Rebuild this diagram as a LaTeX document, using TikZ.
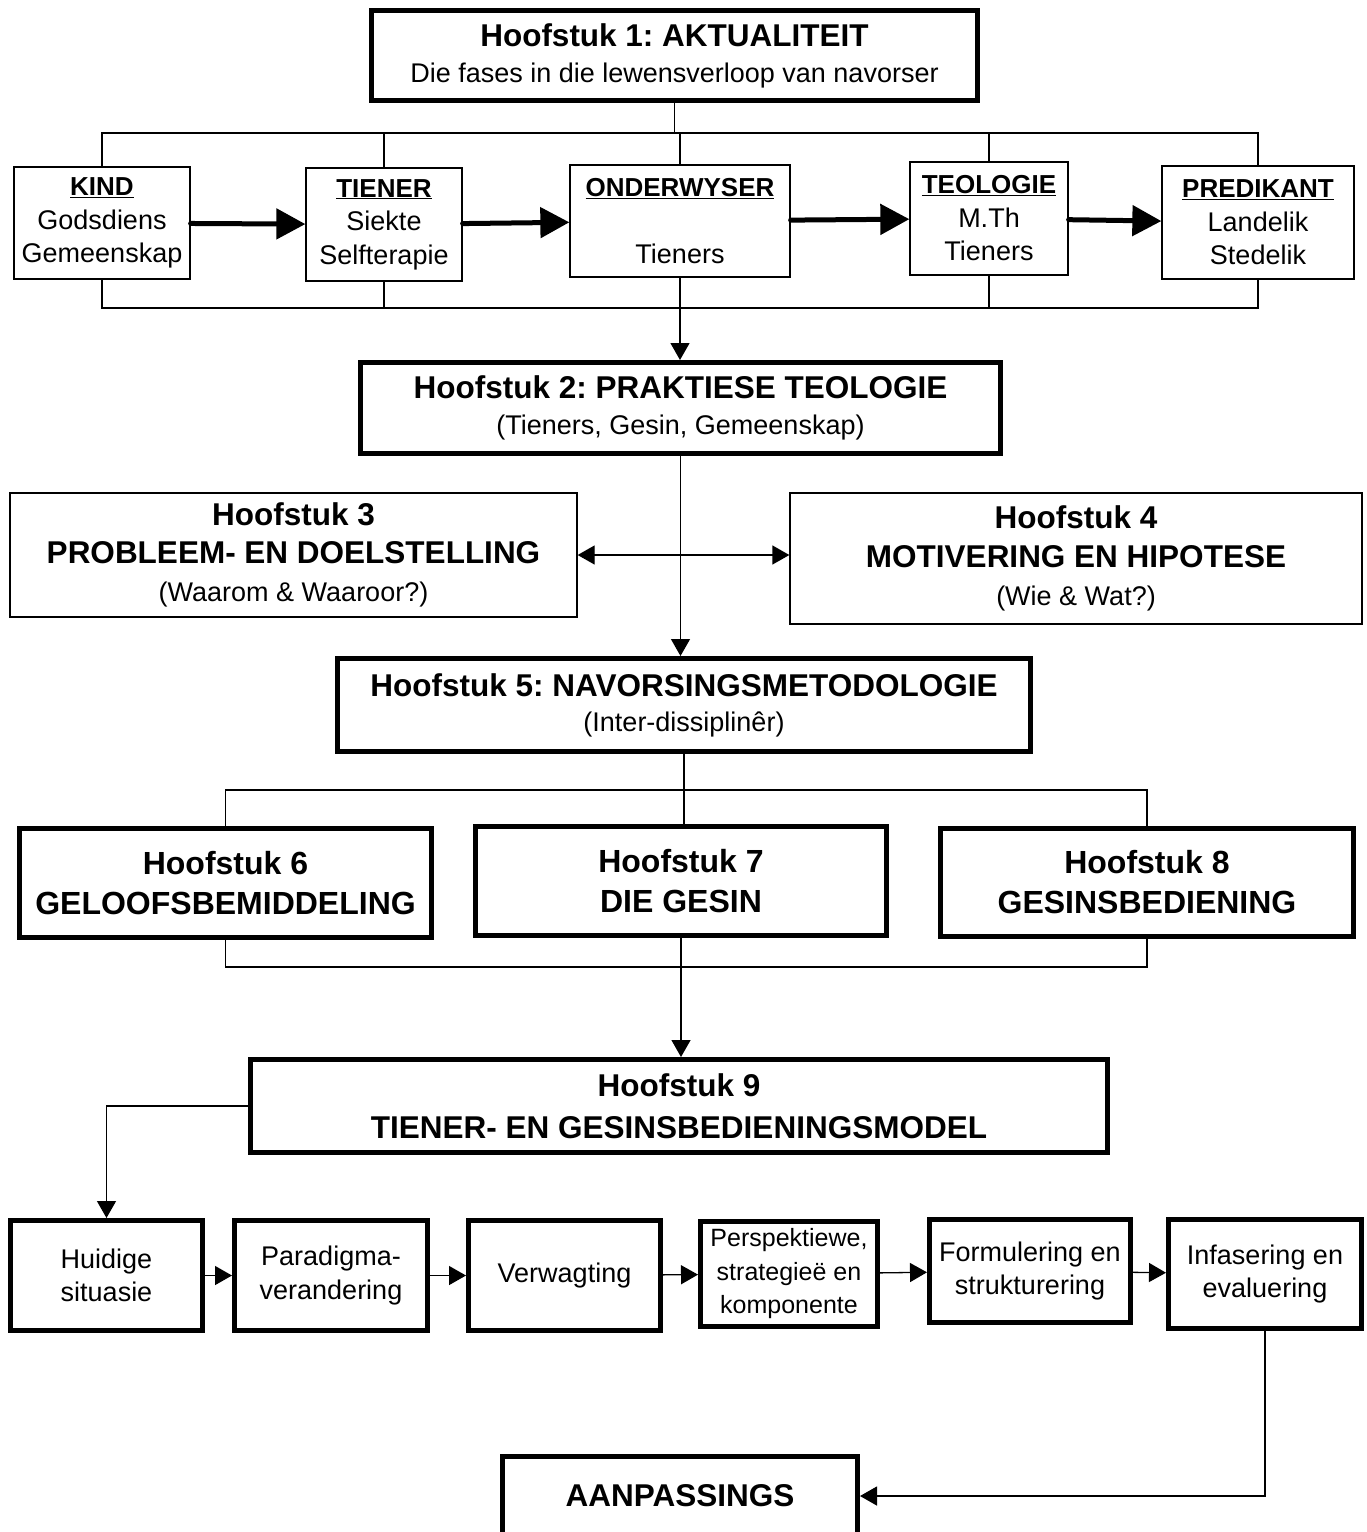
\documentclass[tikz,border=0pt]{standalone}
\usepackage{fontspec}
\setmainfont{Liberation Sans}
\usetikzlibrary{arrows.meta}
\frenchspacing
\newcommand{\kop}[1]{{\fontsize{31.5}{38}\selectfont\bfseries #1}}
\newcommand{\fase}[1]{{\fontsize{26}{33.5}\selectfont\bfseries\underline{#1}}}

\begin{document}
\begin{tikzpicture}[x=1pt,y=-1pt,
    thinbox/.style={draw,line width=1.3pt,inner sep=0pt,align=center,font=\fontsize{27}{33.5}\selectfont},
    thickbox/.style={draw,line width=5pt,inner sep=0pt,align=center,font=\fontsize{27}{33.5}\selectfont},
    thinline/.style={line width=1.3pt},
    bigarrow/.style={line width=5pt,line cap=round,-{Triangle[length=29pt,width=30pt]}},
    smallarrow/.style={thinline,-{Triangle[length=17pt,width=19pt]}}]
  \useasboundingbox (0,0) rectangle (1367,1532);
  \clip (0,0) rectangle (1367,1532);

  % Hoofstuk 1 en die fases
  \node[thickbox,minimum width=606pt,minimum height=90pt,font=\fontsize{27}{36}\selectfont] (h1) at (674.5,55.5)
    {\kop{Hoofstuk 1: AKTUALITEIT}\\ Die fases in die lewensverloop van navorser};
  \node[thinbox,minimum width=176pt,minimum height=112pt] (kind) at (102,223) {\fase{KIND}\\ Godsdiens\\ Gemeenskap};
  \node[thinbox,minimum width=156pt,minimum height=113pt] (tiener) at (384,224.5) {\fase{TIENER}\\ Siekte\\ Selfterapie};
  \node[thinbox,minimum width=220pt,minimum height=112pt] (onderwyser) at (680,221) {\fase{ONDERWYSER}\\ \mbox{}\\ Tieners};
  \node[thinbox,minimum width=158pt,minimum height=113pt] (teologie) at (989,218.5) {\fase{TEOLOGIE}\\ M.Th\\ Tieners};
  \node[thinbox,minimum width=192pt,minimum height=113pt] (predikant) at (1258,222.5) {\fase{PREDIKANT}\\ Landelik\\ Stedelik};

  \coordinate (topbar) at (0,133);
  \coordinate (lowbar) at (0,308);
  \draw[thinline] (h1.south) -- (h1.south |- topbar);
  \draw[thinline] (kind.north) |- (predikant.north |- topbar) -- (predikant.north);
  \draw[thinline] (tiener.north) -- (tiener.north |- topbar);
  \draw[thinline] (onderwyser.north) -- (onderwyser.north |- topbar);
  \draw[thinline] (teologie.north) -- (teologie.north |- topbar);
  \draw[thinline] (kind.south) |- (predikant.south |- lowbar) -- (predikant.south);
  \draw[thinline] (tiener.south) -- (tiener.south |- lowbar);
  \draw[thinline] (teologie.south) -- (teologie.south |- lowbar);

  \draw[bigarrow] (kind) -- (tiener);
  \draw[bigarrow] (tiener) -- (onderwyser);
  \draw[bigarrow] (onderwyser) -- (teologie);
  \draw[bigarrow] (teologie) -- (predikant);

  % Hoofstuk 2 tot 5
  \node[thickbox,minimum width=640pt,minimum height=91pt,font=\fontsize{27}{36}\selectfont] (h2) at (680.5,408)
    {\kop{Hoofstuk 2: PRAKTIESE TEOLOGIE}\\ (Tieners, Gesin, Gemeenskap)};
  \node[thinbox,minimum width=567pt,minimum height=124pt,font=\fontsize{27}{38}\selectfont] (h3) at (293.5,555)
    {\kop{Hoofstuk 3}\\ \kop{PROBLEEM- EN DOELSTELLING}\\ (Waarom \& Waaroor?)};
  \node[thinbox,minimum width=572pt,minimum height=131pt,font=\fontsize{27}{38.5}\selectfont] (h4) at (1076,558.5)
    {\kop{Hoofstuk 4}\\ \kop{MOTIVERING EN HIPOTESE}\\ (Wie \& Wat?)};
  \node[thickbox,minimum width=693pt,minimum height=93pt,font=\fontsize{27}{35}\selectfont] (h5) at (684,705)
    {\kop{Hoofstuk 5: NAVORSINGSMETODOLOGIE}\\ (Inter-dissiplinêr)};

  \draw[smallarrow] (onderwyser.south) -- (onderwyser.south |- h2.north);
  \draw[smallarrow] (h2.south) -- (h2.south |- h5.north);
  \draw[smallarrow,{Triangle[length=17pt,width=19pt]}-{Triangle[length=17pt,width=19pt]}] (h3.east) -- (h3.east -| h4.west);

  % Hoofstuk 6 tot 9
  \node[thickbox,minimum width=412pt,minimum height=109pt,font=\fontsize{32}{40}\selectfont\bfseries] (h6) at (225.5,883)
    {Hoofstuk 6\\ GELOOFSBEMIDDELING};
  \node[thickbox,minimum width=411pt,minimum height=109pt,font=\fontsize{32}{40}\selectfont\bfseries] (h7) at (681,881)
    {Hoofstuk 7\\ DIE GESIN};
  \node[thickbox,minimum width=413pt,minimum height=108pt,font=\fontsize{32}{40}\selectfont\bfseries] (h8) at (1147,882.5)
    {Hoofstuk 8\\ GESINSBEDIENING};
  \node[thickbox,minimum width=857pt,minimum height=93pt,font=\fontsize{31.5}{42}\selectfont\bfseries] (h9) at (679,1106)
    {Hoofstuk 9\\ TIENER- EN GESINSBEDIENINGSMODEL};

  \coordinate (midbar) at (0,790);
  \coordinate (basebar) at (0,967);
  \draw[thinline] (h5.south) -- (h5.south |- midbar);
  \draw[thinline] (h6.north) |- (h8.north |- midbar) -- (h8.north);
  \draw[thinline] (h5.south |- midbar) -- (h5.south |- h7.north);
  \draw[thinline] (h6.south) |- (h8.south |- basebar) -- (h8.south);
  \draw[thinline] (h7.south) -- (h7.south |- basebar);
  \draw[smallarrow] (h7.south |- basebar) -- (h7.south |- h9.north);

  % Model
  \node[thickbox,minimum width=192pt,minimum height=110pt] (huidige) at (106.5,1275.5) {Huidige\\ situasie};
  \node[thickbox,minimum width=193pt,minimum height=110pt] (paradigma) at (331,1275.5) {Paradigma-\\ verandering};
  \node[thickbox,minimum width=192pt,minimum height=110pt] (verwagting) at (564.5,1275.5) {Verwagting};
  \node[thickbox,minimum width=177pt,minimum height=105pt,font=\fontsize{25}{33.5}\selectfont] (perspektief) at (789,1274) {Perspektiewe,\\ strategieë en\\ komponente};
  \node[thickbox,minimum width=201pt,minimum height=103pt] (formulering) at (1030,1271) {Formulering en\\ strukturering};
  \node[thickbox,minimum width=193pt,minimum height=109pt] (infasering) at (1265,1274) {Infasering en\\ evaluering};
  \node[thickbox,minimum width=355pt,minimum height=80pt,font=\fontsize{31.5}{38}\selectfont\bfseries] (aanpassings) at (680,1496) {AANPASSINGS};

  \draw[smallarrow] (h9.west) -| (huidige.north);
  \draw[smallarrow] (huidige) -- (paradigma);
  \draw[smallarrow] (paradigma) -- (verwagting);
  \draw[smallarrow] (verwagting) -- (perspektief);
  \draw[smallarrow] (perspektief) -- (formulering);
  \draw[smallarrow] (formulering) -- (infasering);
  \draw[smallarrow] (infasering.south) |- (aanpassings.east);
\end{tikzpicture}
\end{document}
